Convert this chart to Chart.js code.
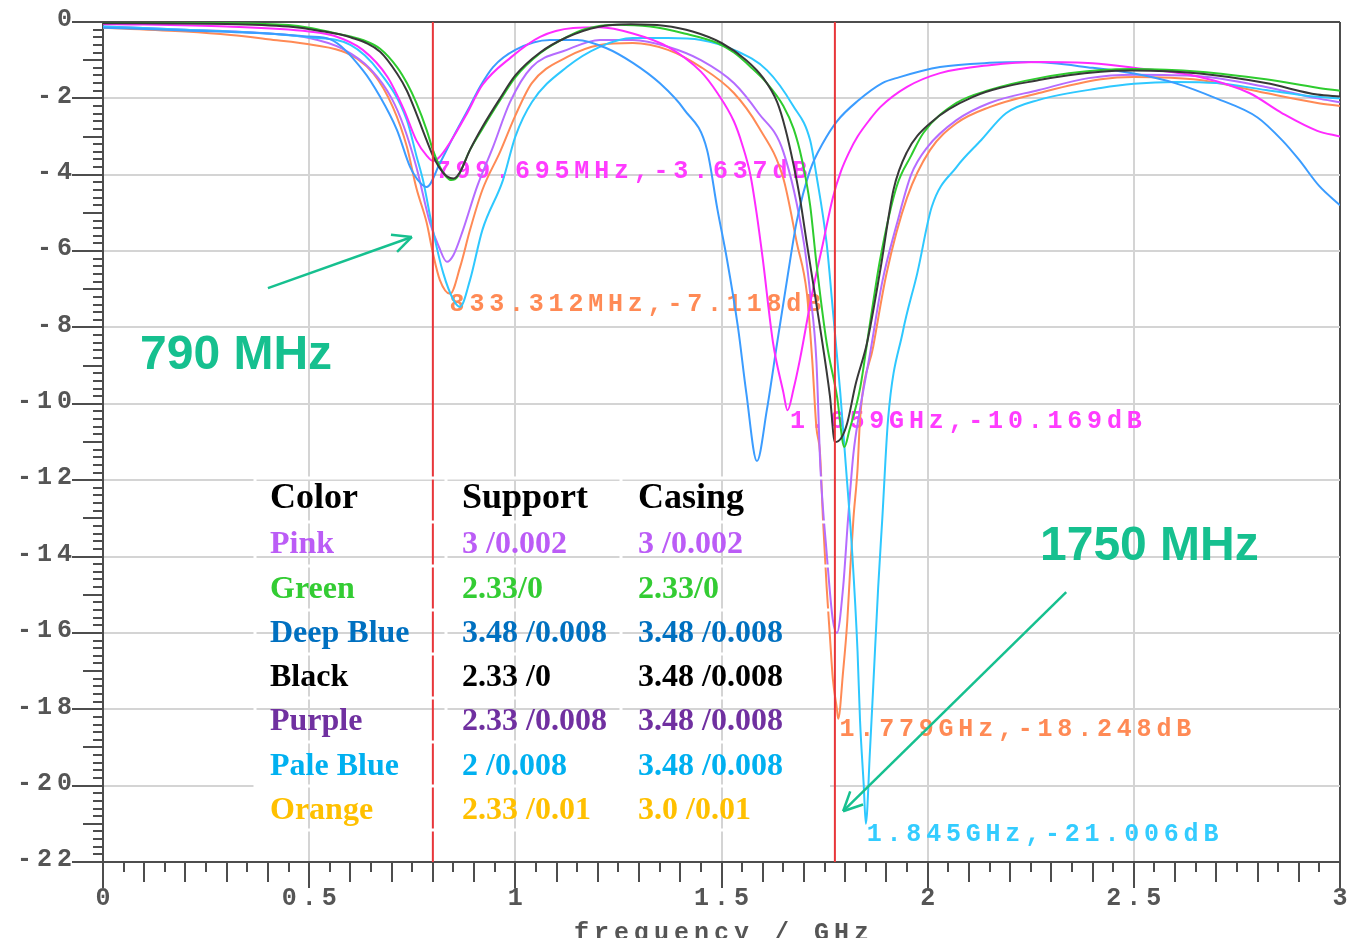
<!DOCTYPE html>
<html>
<head>
<meta charset="utf-8">
<title>S11 vs frequency</title>
<script src="https://cdn.jsdelivr.net/npm/chart.js@4.4.1/dist/chart.umd.min.js"></script>
<style>
  html, body { margin: 0; padding: 0; background: #fff; }
</style>
</head>
<body>
<canvas id="s11Chart" width="1347" height="938"></canvas>
<script>
// ! data (GHz / dB)
const greenFreq = [0, 0.3, 0.45, 0.5, 0.55, 0.6, 0.63, 0.672, 0.713, 0.737, 0.76, 0.785, 0.8, 0.815, 0.83, 0.845, 0.86, 0.89, 0.92, 0.963, 1.0, 1.06, 1.125, 1.17, 1.246, 1.327, 1.41, 1.49, 1.53, 1.57, 1.61, 1.65, 1.675, 1.695, 1.715, 1.73, 1.755, 1.78, 1.798, 1.81, 1.836, 1.86, 1.885, 1.925, 1.96, 1.99, 2.07, 2.15, 2.27, 2.42, 2.5, 2.66, 2.82, 2.945, 3.0];
const greenDb = [-0.02, -0.03, -0.08, -0.15, -0.26, -0.38, -0.47, -0.7, -1.18, -1.6, -2.12, -2.83, -3.35, -3.75, -4.02, -4.14, -4.05, -3.35, -2.8, -2.05, -1.45, -0.82, -0.39, -0.18, -0.07, -0.12, -0.3, -0.55, -0.8, -1.17, -1.6, -2.2, -2.8, -3.6, -4.8, -6.3, -8.4, -9.8, -11.13, -10.7, -9.6, -7.9, -6.2, -4.3, -3.5, -2.9, -2.12, -1.78, -1.47, -1.26, -1.23, -1.3, -1.5, -1.72, -1.8];

const blackFreq = [0, 0.3, 0.45, 0.52, 0.6, 0.672, 0.713, 0.737, 0.76, 0.785, 0.8, 0.815, 0.835, 0.85, 0.865, 0.89, 0.92, 0.963, 1.0, 1.06, 1.125, 1.2, 1.28, 1.36, 1.43, 1.5, 1.56, 1.6, 1.635, 1.655, 1.674, 1.69, 1.707, 1.739, 1.763, 1.775, 1.79, 1.805, 1.825, 1.853, 1.885, 1.917, 1.95, 2.006, 2.11, 2.27, 2.42, 2.5, 2.66, 2.82, 2.945, 3.0];
const blackDb = [-0.03, -0.05, -0.12, -0.22, -0.4, -0.78, -1.35, -1.8, -2.4, -3.1, -3.5, -3.8, -4.05, -4.1, -3.95, -3.35, -2.75, -2.0, -1.4, -0.8, -0.4, -0.13, -0.06, -0.1, -0.25, -0.55, -1.0, -1.45, -2.1, -2.8, -3.7, -4.6, -5.8, -8.0, -9.8, -11.0, -10.9, -10.5, -9.5, -8.4, -6.5, -4.4, -3.4, -2.65, -1.96, -1.52, -1.3, -1.27, -1.35, -1.6, -1.9, -1.95];

const pinkFreq = [0, 0.3, 0.5, 0.56, 0.63, 0.69, 0.73, 0.76, 0.785, 0.8, 0.815, 0.842, 0.88, 0.92, 0.99, 1.06, 1.14, 1.205, 1.285, 1.37, 1.45, 1.49, 1.53, 1.55, 1.57, 1.585, 1.6, 1.625, 1.65, 1.66, 1.675, 1.69, 1.72, 1.746, 1.77, 1.79, 1.81, 1.83, 1.86, 1.885, 1.95, 2.03, 2.15, 2.27, 2.4, 2.5, 2.66, 2.78, 2.86, 2.945, 3.0];
const pinkDb = [-0.05, -0.12, -0.25, -0.36, -0.73, -1.44, -2.3, -3.1, -3.5, -3.64, -3.55, -3.15, -2.45, -1.65, -0.92, -0.39, -0.16, -0.14, -0.3, -0.65, -1.3, -1.86, -2.6, -3.2, -4.0, -5.0, -6.2, -8.4, -9.7, -10.17, -9.6, -8.85, -7.1, -5.8, -4.6, -3.9, -3.4, -3.0, -2.55, -2.23, -1.7, -1.34, -1.13, -1.05, -1.08, -1.2, -1.44, -1.86, -2.39, -2.85, -3.0];

const deepBlueFreq = [0, 0.2, 0.4, 0.5, 0.55, 0.63, 0.672, 0.713, 0.745, 0.77, 0.785, 0.817, 0.85, 0.89, 0.914, 0.946, 1.0, 1.084, 1.15, 1.22, 1.285, 1.35, 1.41, 1.465, 1.49, 1.513, 1.54, 1.56, 1.586, 1.61, 1.635, 1.66, 1.683, 1.715, 1.746, 1.78, 1.83, 1.89, 1.93, 2.03, 2.15, 2.25, 2.4, 2.5, 2.6, 2.7, 2.8, 2.86, 2.9, 2.95, 3.0];
const deepBlueDb = [-0.15, -0.22, -0.3, -0.38, -0.45, -1.26, -1.96, -2.83, -3.8, -4.22, -4.32, -3.7, -3.0, -2.2, -1.7, -1.18, -0.73, -0.47, -0.47, -0.68, -1.07, -1.6, -2.3, -3.35, -4.9, -6.2, -8.0, -9.7, -11.5, -10.16, -8.4, -6.68, -5.19, -3.88, -3.17, -2.6, -2.07, -1.6, -1.45, -1.18, -1.07, -1.05, -1.2, -1.35, -1.6, -2.0, -2.5, -3.1, -3.6, -4.3, -4.8];

const purpleFreq = [0, 0.2, 0.4, 0.5, 0.58, 0.65, 0.7, 0.73, 0.76, 0.793, 0.815, 0.834, 0.85, 0.873, 0.907, 0.946, 0.987, 1.04, 1.125, 1.205, 1.285, 1.37, 1.45, 1.53, 1.59, 1.65, 1.7, 1.715, 1.73, 1.74, 1.755, 1.77, 1.78, 1.795, 1.807, 1.82, 1.835, 1.86, 1.89, 1.925, 1.96, 2.0, 2.07, 2.15, 2.27, 2.39, 2.5, 2.66, 2.82, 2.945, 3.0];
const purpleDb = [-0.12, -0.2, -0.3, -0.42, -0.7, -1.25, -2.0, -2.75, -3.8, -5.26, -5.9, -6.28, -6.1, -5.45, -4.32, -3.27, -2.1, -1.18, -0.73, -0.47, -0.47, -0.65, -1.0, -1.6, -2.39, -3.4, -5.8, -7.1, -8.85, -11.7, -13.9, -15.66, -16.0, -14.8, -13.0, -11.3, -10.2, -8.7, -6.8, -5.3, -4.0, -3.27, -2.57, -2.12, -1.78, -1.47, -1.38, -1.42, -1.7, -2.0, -2.1];

const paleBlueFreq = [0, 0.2, 0.4, 0.5, 0.6, 0.67, 0.737, 0.76, 0.776, 0.8, 0.825, 0.85, 0.866, 0.89, 0.92, 0.97, 1.0, 1.04, 1.125, 1.205, 1.285, 1.37, 1.45, 1.53, 1.61, 1.674, 1.715, 1.73, 1.755, 1.77, 1.788, 1.8, 1.817, 1.83, 1.836, 1.845, 1.85, 1.86, 1.868, 1.88, 1.89, 1.904, 1.94, 1.975, 2.01, 2.07, 2.13, 2.19, 2.27, 2.42, 2.5, 2.6, 2.7, 2.82, 2.945, 3.0];
const paleBlueDb = [-0.12, -0.2, -0.3, -0.4, -0.6, -1.3, -2.57, -3.5, -4.14, -5.45, -6.57, -7.28, -7.46, -6.76, -5.45, -4.14, -3.0, -2.1, -1.18, -0.65, -0.42, -0.42, -0.47, -0.73, -1.26, -2.2, -3.1, -4.0, -5.8, -7.54, -9.7, -11.4, -13.9, -16.5, -18.3, -20.0, -21.0, -19.1, -17.4, -14.8, -13.0, -10.4, -8.1, -6.57, -4.84, -3.8, -3.09, -2.39, -2.04, -1.73, -1.62, -1.57, -1.6, -1.78, -1.96, -2.0];

const orangeFreq = [0, 0.2, 0.31, 0.4, 0.51, 0.59, 0.655, 0.703, 0.737, 0.76, 0.785, 0.8, 0.817, 0.842, 0.866, 0.89, 0.92, 0.963, 1.0, 1.04, 1.125, 1.205, 1.285, 1.37, 1.45, 1.53, 1.59, 1.65, 1.683, 1.707, 1.72, 1.73, 1.739, 1.746, 1.755, 1.763, 1.77, 1.78, 1.783, 1.795, 1.805, 1.812, 1.82, 1.83, 1.836, 1.868, 1.9, 1.95, 2.006, 2.07, 2.15, 2.27, 2.42, 2.5, 2.66, 2.82, 2.945, 3.0];
const orangeDb = [-0.15, -0.25, -0.34, -0.45, -0.6, -0.81, -1.34, -2.23, -3.27, -4.35, -5.26, -6.05, -6.76, -7.12, -6.42, -5.45, -4.4, -3.4, -2.45, -1.6, -0.92, -0.6, -0.55, -0.73, -1.18, -1.86, -2.75, -4.1, -5.8, -7.1, -8.85, -10.6, -11.3, -13.0, -14.8, -16.1, -17.2, -18.0, -18.25, -17.0, -15.7, -14.35, -13.0, -11.7, -10.4, -8.5, -6.6, -4.6, -3.35, -2.65, -2.23, -1.86, -1.5, -1.44, -1.52, -1.86, -2.12, -2.2];

// band markers (red verticals)
const bandFreq = [0.8, 1.775];

// marker readouts
const markerFreq = [0.7997, 0.8333, 1.659, 1.779, 1.845];
const markerDb = [-3.637, -7.118, -10.169, -18.248, -21.006];
const markerText = ['799.695MHz,-3.637dB', '833.312MHz,-7.118dB', '1.659GHz,-10.169dB', '1.779GHz,-18.248dB', '1.845GHz,-21.006dB'];
const markerColor = ['#ff3cff', '#ff8a55', '#ff3cff', '#ff8a55', '#33ccff'];

// ticks
const yTickVals = [0, -2, -4, -6, -8, -10, -12, -14, -16, -18, -20, -22];
const xTickVals = [0, 0.5, 1, 1.5, 2, 2.5, 3];
const xTickLabels = ['0', '0.5', '1', '1.5', '2', '2.5', '3'];

// table
const tableHeader = ['Color', 'Support', 'Casing'];
const tableNames = ['Pink', 'Green', 'Deep Blue', 'Black', 'Purple', 'Pale Blue', 'Orange'];
const tableSupport = ['3 /0.002', '2.33/0', '3.48 /0.008', '2.33 /0', '2.33 /0.008', '2 /0.008', '2.33 /0.01'];
const tableCasing = ['3 /0.002', '2.33/0', '3.48 /0.008', '3.48 /0.008', '3.48 /0.008', '3.48 /0.008', '3.0 /0.01'];
const tableTextColor = ['#bb5cf6', '#33cc33', '#0070c0', '#000000', '#7030a0', '#00b0f0', '#ffc000'];

const pts = (xs, ys) => xs.map((v, i) => ({ x: v, y: ys[i] }));

const curve = (label, xs, ys, color, order) => ({
    label: label,
    data: pts(xs, ys),
    borderColor: color,
    borderWidth: 2,
    pointRadius: 0,
    cubicInterpolationMode: 'monotone',
    order: order
});

const datasets = [
    curve('Black', blackFreq, blackDb, '#383838', 1),
    curve('Green', greenFreq, greenDb, '#2ecc2e', 2),
    curve('Pink', pinkFreq, pinkDb, '#ff2bff', 3),
    curve('Deep Blue', deepBlueFreq, deepBlueDb, '#3b9cff', 4),
    curve('Pale Blue', paleBlueFreq, paleBlueDb, '#2ec8ff', 5),
    curve('Purple', purpleFreq, purpleDb, '#b56cff', 6),
    curve('Orange', orangeFreq, orangeDb, '#ff8a55', 7)
];
bandFreq.forEach(f => datasets.push({
    label: 'band',
    data: [{ x: f, y: 0 }, { x: f, y: -22 }],
    borderColor: '#e8363a',
    borderWidth: 2,
    pointRadius: 0,
    tension: 0,
    order: 0
}));

function line(ctx, x1, y1, x2, y2) {
    ctx.beginPath(); ctx.moveTo(x1, y1); ctx.lineTo(x2, y2); ctx.stroke();
}

function arrow(ctx, x1, y1, x2, y2) {
    const ang = Math.atan2(y2 - y1, x2 - x1);
    line(ctx, x1, y1, x2, y2);
    [-0.45, 0.45].forEach(d => line(ctx, x2, y2, x2 - 21 * Math.cos(ang + d), y2 - 21 * Math.sin(ang + d)));
}

// ! axis decoration, tick labels and readouts
const decor = {
    id: 'decor',
    beforeDatasetsDraw(chart) {
        const { ctx, chartArea: a, scales: { x, y } } = chart;
        ctx.save();
        ctx.strokeStyle = '#4d4d4d';
        ctx.lineWidth = 2;
        for (let i = 0; i <= 110; i++) {
            const py = Math.round(y.getPixelForValue(-i * 0.2));
            const len = i % 10 === 0 ? 31 : (i % 5 === 0 ? 20 : 10);
            line(ctx, a.left - len, py, a.left, py);
        }
        for (let i = 0; i <= 60; i++) {
            const px = Math.round(x.getPixelForValue(i * 0.05));
            const len = i % 10 === 0 ? 26 : (i % 2 === 0 ? 20 : 10);
            line(ctx, px, a.bottom, px, a.bottom + len);
        }

        ctx.font = 'bold 25px "Liberation Mono"';
        ctx.letterSpacing = '5px';
        ctx.fillStyle = '#555555';
        ctx.textAlign = 'right';
        ctx.textBaseline = 'middle';
        yTickVals.forEach(v => ctx.fillText(String(v), 77, y.getPixelForValue(v) - 2));
        ctx.textAlign = 'center';
        xTickVals.forEach((v, i) => ctx.fillText(xTickLabels[i], x.getPixelForValue(v) + 2.5, 899));
        ctx.textBaseline = 'alphabetic';
        ctx.fillText('frequency / GHz', x.getPixelForValue(1.5) + 2.5, 940);

        ctx.letterSpacing = '4.8px';
        ctx.textAlign = 'left';
        ctx.textBaseline = 'middle';
        markerFreq.forEach((f, i) => {
            ctx.fillStyle = markerColor[i];
            ctx.fillText(markerText[i], x.getPixelForValue(f) + 3, y.getPixelForValue(markerDb[i]) + 11);
        });
        ctx.restore();
    },
    afterDatasetsDraw(chart) {
        const { ctx, scales: { x, y } } = chart;
        ctx.save();
        // table cell borders
        ctx.strokeStyle = '#ffffff';
        ctx.lineWidth = 3;
        for (let r = 0; r <= 8; r++) line(ctx, 255, 478 + r * 44, 830, 478 + r * 44);
        [255, 446, 621].forEach(xx => line(ctx, xx, 478, xx, 830));

        ctx.textAlign = 'left';
        ctx.textBaseline = 'middle';
        ctx.font = 'bold 36px "Liberation Serif"';
        ctx.fillStyle = '#000';
        const colX = [270, 462, 638];
        tableHeader.forEach((t, i) => ctx.fillText(t, colX[i], 499));
        ctx.font = 'bold 32px "Liberation Serif"';
        tableNames.forEach((n, r) => {
            const yy = 545 + r * 44.3;
            ctx.fillStyle = tableTextColor[r];
            ctx.fillText(n, colX[0], yy);
            ctx.fillText(tableSupport[r], colX[1], yy);
            ctx.fillText(tableCasing[r], colX[2], yy);
        });

        // band callouts
        ctx.strokeStyle = '#16c08f';
        ctx.fillStyle = '#16c08f';
        ctx.lineWidth = 2.5;
        arrow(ctx, x.getPixelForValue(0.400), y.getPixelForValue(-6.97), x.getPixelForValue(0.749), y.getPixelForValue(-5.63));
        arrow(ctx, x.getPixelForValue(2.336), y.getPixelForValue(-14.93), x.getPixelForValue(1.795), y.getPixelForValue(-20.67));
        ctx.font = 'bold 48px "Liberation Sans"';
        ctx.textBaseline = 'alphabetic';
        ctx.fillText('790 MHz', 140, 369);
        ctx.fillText('1750 MHz', 1040, 560);
        ctx.restore();
    }
};

const s11 = new Chart(document.getElementById('s11Chart'), {
    type: 'line',
    data: { datasets: datasets },
    options: {
        responsive: false,
        animation: false,
        devicePixelRatio: 1,
        layout: { padding: { top: 22, right: 7, left: 0, bottom: 0 } },
        plugins: { legend: { display: false }, tooltip: { enabled: false } },
        scales: {
            x: {
                type: 'linear', min: 0, max: 3,
                ticks: { stepSize: 0.5, display: false },
                grid: { color: c => (c.tick && c.tick.value === 3 ? '#4d4d4d' : '#d4d4d4'), lineWidth: 2, drawTicks: false },
                border: { color: '#4d4d4d', width: 2 },
                afterFit: s => { s.height = 76; }
            },
            y: {
                type: 'linear', min: -22, max: 0,
                ticks: { stepSize: 2, display: false },
                grid: { color: c => (c.tick && c.tick.value === 0 ? '#4d4d4d' : '#d4d4d4'), lineWidth: 2, drawTicks: false },
                border: { color: '#4d4d4d', width: 2 },
                afterFit: s => { s.width = 103; }
            }
        }
    },
    plugins: [decor]
});
</script>
</body>
</html>
